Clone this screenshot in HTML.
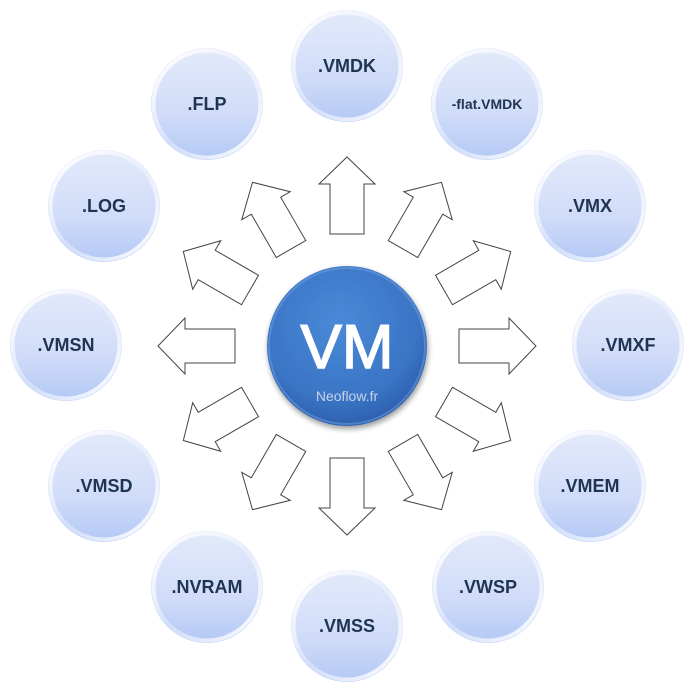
<!DOCTYPE html>
<html><head><meta charset="utf-8"><style>
html,body{margin:0;padding:0;background:#fff;}
svg{display:block;}
text{font-family:"Liberation Sans",sans-serif;}
</style></head><body>
<svg width="697" height="694" viewBox="0 0 697 694" xmlns="http://www.w3.org/2000/svg">
<defs>
<linearGradient id="og" x1="0" y1="0" x2="0" y2="1">
<stop offset="0" stop-color="#e4eafb"/>
<stop offset="0.6" stop-color="#d0dcf8"/>
<stop offset="1" stop-color="#b3c8f5"/>
</linearGradient>
<linearGradient id="rim" x1="0" y1="0" x2="1" y2="1">
<stop offset="0" stop-color="#ffffff" stop-opacity="1"/>
<stop offset="0.5" stop-color="#ffffff" stop-opacity="0.3"/>
<stop offset="1" stop-color="#ffffff" stop-opacity="1"/>
</linearGradient>
<radialGradient id="cg" cx="0.45" cy="0.35" r="0.7">
<stop offset="0" stop-color="#4a8ad8"/>
<stop offset="0.7" stop-color="#3a74c4"/>
<stop offset="1" stop-color="#2a5aa8"/>
</radialGradient>
<filter id="sh" x="-20%" y="-20%" width="140%" height="140%">
<feGaussianBlur in="SourceAlpha" stdDeviation="3"/>
<feOffset dx="1" dy="3"/>
<feComponentTransfer><feFuncA type="linear" slope="0.4"/></feComponentTransfer>
<feMerge><feMergeNode/><feMergeNode in="SourceGraphic"/></feMerge>
</filter>
<g id="ar"><polygon points="-17,-112 -17,-162 -28,-162 0,-189 28,-162 17,-162 17,-112" fill="#fff" stroke="#444" stroke-width="1"/></g>
<g id="oc"><circle r="56" fill="url(#og)"/><circle r="53.5" fill="none" stroke="url(#rim)" stroke-width="4"/></g>
</defs>
<g transform="translate(347,346)">
<use href="#ar" transform="rotate(0)"/>
<use href="#ar" transform="rotate(30)"/>
<use href="#ar" transform="rotate(60)"/>
<use href="#ar" transform="rotate(90)"/>
<use href="#ar" transform="rotate(120)"/>
<use href="#ar" transform="rotate(150)"/>
<use href="#ar" transform="rotate(180)"/>
<use href="#ar" transform="rotate(210)"/>
<use href="#ar" transform="rotate(240)"/>
<use href="#ar" transform="rotate(270)"/>
<use href="#ar" transform="rotate(300)"/>
<use href="#ar" transform="rotate(330)"/>
</g>
<g font-weight="bold" font-size="18" fill="#1f3352" text-anchor="middle">
<use href="#oc" x="347" y="66"/><text x="347" y="72">.VMDK</text>
<use href="#oc" x="487" y="104"/><text x="487" y="109" font-size="14">-flat.VMDK</text>
<use href="#oc" x="590" y="206"/><text x="590" y="212">.VMX</text>
<use href="#oc" x="628" y="345"/><text x="628" y="351">.VMXF</text>
<use href="#oc" x="590" y="486"/><text x="590" y="492">.VMEM</text>
<use href="#oc" x="488" y="587"/><text x="488" y="593">.VWSP</text>
<use href="#oc" x="347" y="626"/><text x="347" y="632">.VMSS</text>
<use href="#oc" x="207" y="587"/><text x="207" y="593">.NVRAM</text>
<use href="#oc" x="104" y="486"/><text x="104" y="492">.VMSD</text>
<use href="#oc" x="66" y="345"/><text x="66" y="351">.VMSN</text>
<use href="#oc" x="104" y="206"/><text x="104" y="212">.LOG</text>
<use href="#oc" x="207" y="104"/><text x="207" y="110">.FLP</text>
</g>
<circle cx="347" cy="346" r="80" fill="url(#cg)" filter="url(#sh)"/>
<circle cx="347" cy="346" r="78" fill="none" stroke="#6fa0e0" stroke-opacity="0.5" stroke-width="2"/>
<text x="347" y="368" text-anchor="middle" font-size="62" fill="#fff" stroke="#fff" stroke-width="1.5" font-family="DejaVu Sans, Liberation Sans, sans-serif">VM</text>
<text x="347" y="401" text-anchor="middle" font-size="14" fill="#c6d3e6" font-family="DejaVu Sans, Liberation Sans, sans-serif">Neoflow.fr</text>
</svg>
</body></html>
